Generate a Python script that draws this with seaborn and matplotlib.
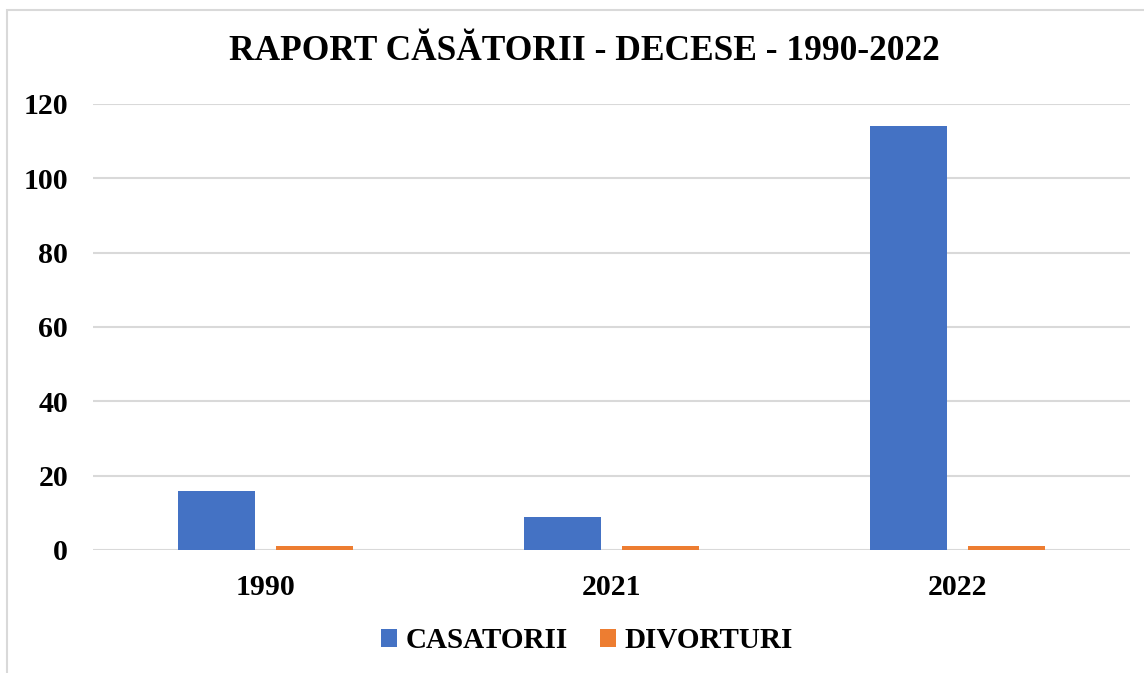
import pandas as pd
import matplotlib.pyplot as plt
import seaborn as sns
from matplotlib.patches import Rectangle

# data
years = ['1990', '2021', '2022']
casatorii = [16, 9, 114]
divorturi = [1, 1, 1]

df = pd.DataFrame({
    'An': years * 2,
    'Valoare': casatorii + divorturi,
    'Serie': ['CASATORII'] * 3 + ['DIVORTURI'] * 3,
})

sns.set_style('white')
plt.rcParams['font.family'] = ['Liberation Serif', 'DejaVu Serif']
plt.rcParams['font.weight'] = 'bold'
plt.rcParams['text.color'] = 'black'
plt.rcParams['xtick.color'] = 'black'
plt.rcParams['ytick.color'] = 'black'

fig = plt.figure(figsize=(11.44, 6.73), dpi=100)
ax = fig.add_axes([0.0813, 0.1828, 0.9065, 0.6627])

# light outer frame like the office chart border
fig.patches.append(Rectangle((7 / 1144, -0.05), 1.2, 1 - 10 / 673 + 0.05,
                             transform=fig.transFigure, fill=False,
                             edgecolor='#d9d9d9', linewidth=1.5))

sns.barplot(data=df, x='An', y='Valoare', hue='Serie',
            palette=['#4472C4', '#ED7D31'], saturation=1,
            width=0.567, gap=0.214, linewidth=0,
            ax=ax, legend=True)

ax.set_ylim(0, 120)
ax.set_yticks(range(0, 121, 20))
ax.set_xlim(-0.5, 2.5)
ax.grid(axis='y', color='#d9d9d9', linewidth=1.5)
ax.set_axisbelow(True)
for s in ax.spines.values():
    s.set_visible(False)
ax.tick_params(axis='y', length=0, pad=18, labelsize=21.5)
ax.tick_params(axis='x', length=0, pad=17, labelsize=21.5)
for lbl in ax.get_xticklabels() + ax.get_yticklabels():
    lbl.set_fontweight('bold')
ax.set_xlabel('')
ax.set_ylabel('')

fig.text(584 / 1144, 1 - 52 / 673, 'RAPORT CĂSĂTORII - DECESE - 1990-2022',
         ha='center', va='center', fontsize=25.5, fontweight='bold')

ax.legend(loc='center', bbox_to_anchor=(587 / 1144, 1 - 641 / 673), bbox_transform=fig.transFigure,
          ncol=2, frameon=False, prop={'weight': 'bold', 'size': 21},
          handlelength=0.55, handleheight=0.55, handletextpad=0.3, columnspacing=1.1)

fig.savefig('out.png', dpi=100)
